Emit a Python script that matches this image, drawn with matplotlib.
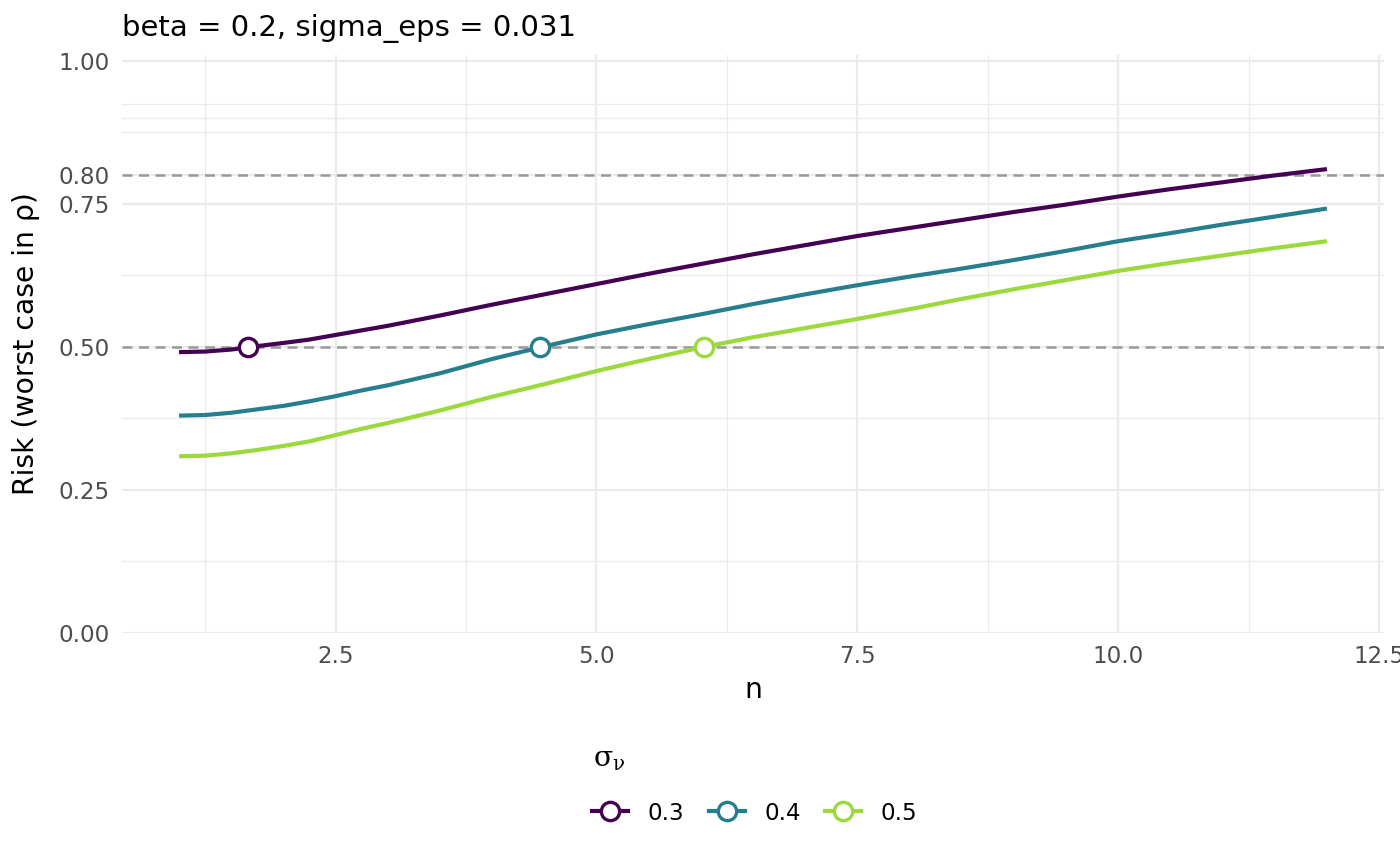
import numpy as np
import matplotlib.pyplot as plt
from matplotlib.lines import Line2D
from matplotlib.ticker import FixedLocator

# risk curves, one per sigma_nu
n = [1, 1.25, 1.5, 1.75, 2, 2.25, 2.5, 2.75, 3, 3.5, 4, 4.5, 5, 5.5,
     6, 6.5, 7, 7.5, 8, 8.5, 9, 9.5, 10, 10.5, 11, 11.5, 12]
risk_03 = [0.491, 0.492, 0.4955, 0.5015, 0.507, 0.513, 0.521, 0.529, 0.537, 0.555, 0.574, 0.592,
           0.610, 0.628, 0.645, 0.662, 0.678, 0.694, 0.708, 0.722, 0.736, 0.749, 0.763, 0.776,
           0.788, 0.800, 0.811]
risk_04 = [0.380, 0.381, 0.385, 0.391, 0.397, 0.405, 0.414, 0.424, 0.433, 0.454, 0.479, 0.501,
           0.522, 0.540, 0.557, 0.575, 0.592, 0.608, 0.623, 0.637, 0.652, 0.668, 0.685, 0.699,
           0.714, 0.728, 0.742]
risk_05 = [0.309, 0.310, 0.314, 0.320, 0.327, 0.335, 0.346, 0.357, 0.367, 0.389, 0.413, 0.435,
           0.458, 0.479, 0.499, 0.517, 0.533, 0.549, 0.566, 0.584, 0.601, 0.617, 0.633, 0.647,
           0.660, 0.673, 0.685]
sigma_nu = ['0.3', '0.4', '0.5']
# n where each curve hits risk 0.5
cross_n = [1.66, 4.46, 6.03]
cross_risk = [0.5, 0.5, 0.5]
ref_levels = [0.5, 0.8]

y_major = [0, 0.25, 0.5, 0.75, 0.8, 1.0]
y_labels = ['0.00', '0.25', '0.50', '0.75', '0.80', '1.00']
y_minor = [0.125, 0.375, 0.625, 0.875, 0.9, 0.925]
x_major = [2.5, 5.0, 7.5, 10.0, 12.5]
x_labels = ['2.5', '5.0', '7.5', '10.0', '12.5']
x_minor = [1.25, 3.75, 6.25, 8.75, 11.25]

cmap = plt.get_cmap('viridis')
colors = [cmap(0.0), cmap(0.425), cmap(0.85)]

fig = plt.figure(figsize=(7, 4.33), dpi=200)
ax = fig.add_axes([0.0869, 0.2691, 0.9019, 0.6674])

for level in ref_levels:
    ax.axhline(level, color='#999999', lw=0.9, dashes=(4, 2.6), zorder=1)

for risk, col in zip([risk_03, risk_04, risk_05], colors):
    ax.plot(n, risk, color=col, lw=1.5, solid_capstyle='butt', solid_joinstyle='round', zorder=2)
for xc, yc, col in zip(cross_n, cross_risk, colors):
    ax.plot(xc, yc, 'o', ms=6.6, mfc='white', mec=col, mew=1.2, zorder=3)

ax.set_xlim(0.45, 12.55)
ax.set_ylim(0, 1.0105)
ax.xaxis.set_major_locator(FixedLocator(x_major))
ax.xaxis.set_minor_locator(FixedLocator(x_minor))
ax.yaxis.set_major_locator(FixedLocator(y_major))
ax.yaxis.set_minor_locator(FixedLocator(y_minor))
ax.set_xticklabels(x_labels)
ax.set_yticklabels(y_labels)
ax.grid(which='major', color='#EBEBEB', lw=0.8, zorder=0)
ax.grid(which='minor', color='#EBEBEB', lw=0.45, zorder=0)
ax.set_axisbelow(True)
for s in ax.spines.values():
    s.set_visible(False)
ax.tick_params(which='both', length=0)
ax.tick_params(axis='both', labelsize=8.3, labelcolor='#4D4D4D', pad=4.2)

ax.set_xlabel('n', fontsize=10.2, labelpad=3)
ax.set_ylabel('Risk (worst case in ρ)', fontsize=10.2)
ax.yaxis.set_label_coords(-0.0647, 0.5)
ax.set_title('beta = 0.2, sigma_eps = 0.031', loc='left', fontsize=10.5, pad=7)

handles = [Line2D([0], [0], color=c, lw=1.5, marker='o', ms=6.6, mfc='white', mec=c, mew=1.2)
           for c in colors]
fig.legend(handles, sigma_nu, loc='center', bbox_to_anchor=(0.539, 0.0612), ncol=3,
           frameon=False, fontsize=8.3, handlelength=1.56, handletextpad=0.85, columnspacing=1.05)
fig.text(593 / 1400, 1 - 759 / 866, r'$\mathrm{\sigma}_{\mathrm{\nu}}$', fontsize=10.2,
         ha='left', va='center', math_fontfamily='dejavuserif')

fig.savefig('out.png', dpi=200)
